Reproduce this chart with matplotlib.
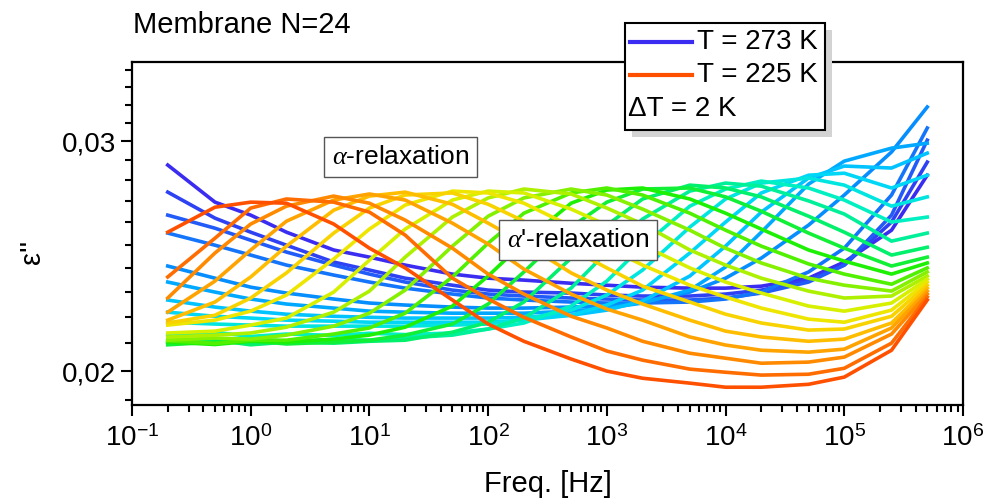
import matplotlib.pyplot as plt
from matplotlib.colors import LinearSegmentedColormap
from matplotlib.ticker import FixedLocator, FixedFormatter, NullFormatter
from matplotlib.patches import Rectangle

plt.rcParams['font.family'] = ['Liberation Sans', 'DejaVu Sans']
plt.rcParams['mathtext.fontset'] = 'custom'
plt.rcParams['mathtext.rm'] = 'Liberation Sans'
plt.rcParams['mathtext.it'] = 'Liberation Serif:italic'

# frequencies [Hz]
freq = [0.2, 0.5, 1, 2, 5, 10, 20, 50, 100, 200, 500, 1e3, 2e3, 5e3,
        1e4, 2e4, 5e4, 1e5, 2.5e5, 5e5]

# eps'' x 1e3, one list per temperature
e273 = [28.76, 26.94, 26.33, 25.55, 24.76, 24.45, 24.11, 23.73, 23.56, 23.48, 23.35, 23.27, 23.19, 23.15, 23.15, 23.23, 23.56, 24.24, 25.64, 28.25]
e271 = [27.42, 26.19, 25.55, 24.97, 24.24, 23.90, 23.56, 23.27, 23.07, 22.99, 22.95, 22.87, 22.83, 22.83, 22.91, 23.07, 23.48, 24.11, 26.01, 28.91]
e269 = [26.33, 25.73, 25.19, 24.67, 24.11, 23.73, 23.40, 23.07, 22.91, 22.83, 22.75, 22.71, 22.67, 22.67, 22.75, 22.95, 23.40, 24.11, 26.33, 30.05]
e267 = [25.51, 24.97, 24.54, 24.11, 23.69, 23.40, 23.15, 22.91, 22.75, 22.67, 22.59, 22.55, 22.55, 22.59, 22.71, 22.99, 23.82, 24.84, 27.28, 30.70]
e265 = [24.07, 23.56, 23.19, 22.95, 22.71, 22.55, 22.47, 22.39, 22.35, 22.35, 22.39, 22.43, 22.59, 22.99, 23.56, 24.41, 25.87, 27.28, 29.43, 31.86]
e263 = [23.40, 22.99, 22.71, 22.51, 22.35, 22.23, 22.19, 22.15, 22.15, 22.15, 22.23, 22.35, 22.55, 23.07, 24.03, 25.55, 27.81, 28.96, 29.63, 29.89]
e261 = [22.67, 22.39, 22.23, 22.11, 22.03, 21.99, 21.96, 21.96, 21.96, 21.99, 22.07, 22.27, 22.63, 23.65, 24.93, 26.47, 28.11, 28.71, 28.61, 29.37]
e259 = [22.19, 22.03, 21.96, 21.88, 21.84, 21.80, 21.80, 21.80, 21.80, 21.88, 22.07, 22.47, 23.07, 24.63, 26.01, 27.38, 28.25, 28.35, 27.62, 28.25]
e257 = [21.80, 21.73, 21.69, 21.65, 21.65, 21.65, 21.65, 21.69, 21.73, 21.92, 22.27, 22.87, 23.90, 25.78, 27.09, 27.86, 28.11, 27.76, 26.75, 27.19]
e255 = [21.31, 21.42, 21.26, 21.35, 21.30, 21.38, 21.33, 21.39, 21.54, 21.77, 22.43, 23.44, 24.93, 26.75, 27.57, 27.96, 27.62, 27.04, 26.01, 26.24]
e253 = [21.12, 21.02, 21.18, 21.08, 21.15, 21.12, 21.20, 21.31, 21.54, 21.96, 23.15, 24.67, 26.15, 27.47, 27.86, 27.71, 27.00, 26.38, 25.15, 25.51]
e251 = [21.01, 21.12, 20.95, 21.05, 21.01, 21.08, 21.12, 21.42, 21.80, 22.59, 24.41, 25.87, 27.09, 27.76, 27.62, 27.19, 26.28, 25.55, 24.54, 24.88]
e249 = [20.95, 21.05, 21.10, 20.98, 21.05, 21.12, 21.31, 21.73, 22.51, 23.82, 25.78, 26.94, 27.57, 27.62, 27.19, 26.51, 25.51, 24.84, 24.07, 24.45]
e247 = [21.05, 20.96, 21.08, 21.05, 21.16, 21.31, 21.61, 22.43, 23.65, 25.10, 26.89, 27.52, 27.62, 27.09, 26.42, 25.69, 24.76, 24.28, 23.73, 24.20]
e245 = [21.10, 21.00, 21.12, 21.12, 21.35, 21.58, 22.15, 23.61, 25.06, 26.42, 27.38, 27.62, 27.28, 26.42, 25.64, 24.93, 24.16, 23.73, 23.31, 23.99]
e243 = [21.12, 21.20, 21.16, 21.31, 21.65, 22.15, 23.07, 24.93, 26.28, 27.14, 27.57, 27.28, 26.61, 25.64, 24.84, 24.20, 23.56, 23.27, 23.03, 23.82]
e241 = [21.24, 21.31, 21.39, 21.61, 22.19, 23.03, 24.45, 26.24, 27.14, 27.57, 27.33, 26.66, 25.92, 24.76, 24.11, 23.56, 23.03, 22.75, 22.83, 23.65]
e239 = [21.39, 21.46, 21.69, 21.96, 22.99, 24.32, 25.69, 27.04, 27.47, 27.38, 26.61, 25.87, 24.97, 23.99, 23.40, 22.95, 22.43, 22.23, 22.55, 23.52]
e237 = [21.69, 21.88, 22.23, 22.87, 24.37, 25.69, 26.80, 27.47, 27.38, 26.89, 25.82, 24.88, 24.11, 23.27, 22.79, 22.35, 21.92, 21.80, 22.27, 23.40]
e235 = [21.77, 22.07, 22.75, 23.78, 25.51, 26.66, 27.28, 27.38, 26.84, 26.05, 24.80, 23.99, 23.23, 22.59, 22.11, 21.77, 21.50, 21.54, 22.03, 23.27]
e233 = [21.88, 22.59, 23.61, 24.93, 26.56, 27.23, 27.42, 26.84, 25.96, 25.06, 23.78, 23.07, 22.51, 21.88, 21.46, 21.24, 21.08, 21.16, 21.77, 23.15]
e231 = [22.19, 23.44, 24.76, 26.05, 27.04, 27.33, 27.04, 25.96, 25.02, 23.94, 22.91, 22.31, 21.88, 21.24, 20.94, 20.75, 20.68, 20.79, 21.58, 23.03]
e229 = [22.75, 24.63, 25.92, 26.75, 27.23, 26.89, 26.10, 24.84, 23.73, 22.91, 22.03, 21.58, 21.08, 20.64, 20.46, 20.28, 20.32, 20.50, 21.35, 22.91]
e227 = [23.61, 25.28, 26.66, 27.09, 26.94, 26.47, 25.42, 23.56, 22.71, 21.99, 21.24, 20.72, 20.39, 20.07, 19.96, 19.86, 19.89, 20.10, 21.01, 22.79]
e225 = [25.55, 26.70, 26.94, 26.89, 25.92, 24.84, 23.99, 22.67, 21.73, 21.08, 20.43, 20.00, 19.75, 19.58, 19.44, 19.44, 19.54, 19.79, 20.75, 22.67]

curves = [e273, e271, e269, e267, e265, e263, e261, e259, e257, e255, e253, e251,
          e249, e247, e245, e243, e241, e239, e237, e235, e233, e231, e229, e227, e225]

x_ticks = [1e-1, 1e0, 1e1, 1e2, 1e3, 1e4, 1e5, 1e6]
x_labels = [r'$10^{-1}$', r'$10^{0}$', r'$10^{1}$', r'$10^{2}$', r'$10^{3}$',
            r'$10^{4}$', r'$10^{5}$', r'$10^{6}$']
y_ticks = [0.02, 0.03]
y_labels = ['0,02', '0,03']

stops = ['#3a2cf0', '#2060f8', '#0098ff', '#00d0ff', '#00f0d0', '#00f070',
         '#20f000', '#90f000', '#e8f000', '#ffc800', '#ff9000', '#ff5000']
cmap = LinearSegmentedColormap.from_list('temps', stops)
n = len(curves)

fig = plt.figure(figsize=(9.87, 5.01), dpi=100)
ax = fig.add_axes([132 / 987, 96 / 501, 831 / 987, 343 / 501])

for k, c in enumerate(curves):
    ax.plot(freq, [v * 1e-3 for v in c], color=cmap(k / (n - 1)), lw=2.6,
            solid_joinstyle='round')

ax.set_xscale('log')
ax.set_yscale('log')
ax.set_xlim(0.1, 1e6)
ax.set_ylim(0.01884, 0.03449)

x_minor = [m * d for d in x_ticks[:-1] for m in range(2, 10)]
ax.xaxis.set_major_locator(FixedLocator(x_ticks))
ax.xaxis.set_major_formatter(FixedFormatter(x_labels))
ax.xaxis.set_minor_locator(FixedLocator(x_minor))
ax.xaxis.set_minor_formatter(NullFormatter())
ax.yaxis.set_major_locator(FixedLocator(y_ticks))
ax.yaxis.set_major_formatter(FixedFormatter(y_labels))
ax.yaxis.set_minor_locator(FixedLocator([0.019, 0.021, 0.022, 0.023, 0.024, 0.025, 0.026,
                                         0.027, 0.028, 0.029, 0.031, 0.032, 0.033, 0.034]))
ax.yaxis.set_minor_formatter(NullFormatter())

ax.tick_params(which='both', direction='out', width=1.5, top=False, right=False,
               labelsize=20)
ax.tick_params(which='major', length=8)
ax.tick_params(which='minor', length=5)
ax.tick_params(axis='x', which='major', pad=7)
for s in ax.spines.values():
    s.set_linewidth(1.6)

ax.set_xlabel('Freq. [Hz]', fontsize=21)
ax.xaxis.set_label_coords(0.5, -0.19)
ax.set_ylabel("ε''", fontsize=21)
ax.yaxis.set_label_coords(-0.103, 0.446)

fig.text(133 / 987, 1 - 25 / 501, 'Membrane N=24', fontsize=21, ha='left', va='center')

box = dict(boxstyle='square,pad=0.3', fc='white', ec='#555555', lw=1)
ax.text(0.3233, 0.723, r'$\alpha$-relaxation', transform=ax.transAxes, fontsize=19,
        ha='center', va='center', bbox=box, zorder=8)
ax.text(0.537, 0.481, r"$\alpha$'-relaxation", transform=ax.transAxes, fontsize=19,
        ha='center', va='center', bbox=box, zorder=8)

# legend box with shadow
x0, w, y0, h = 0.5938, 0.2404, 0.8017, 0.3120
ax.add_patch(Rectangle((x0 + 0.0084, y0 - 0.0204), w, h, transform=ax.transAxes,
                       fc='#d3d3d3', ec='none', clip_on=False, zorder=9))
ax.add_patch(Rectangle((x0, y0), w, h, transform=ax.transAxes, fc='white', ec='black',
                       lw=1.5, clip_on=False, zorder=10))
ax.plot([0.5998, 0.6743], [1.0583, 1.0583], transform=ax.transAxes, color=cmap(0.0),
        lw=3, clip_on=False, zorder=11)
ax.plot([0.5998, 0.6743], [0.9621, 0.9621], transform=ax.transAxes, color=cmap(1.0),
        lw=3, clip_on=False, zorder=11)
ax.text(0.6803, 1.0583, 'T = 273 K', transform=ax.transAxes, fontsize=20, va='center',
        ha='left', zorder=11)
ax.text(0.6803, 0.9621, 'T = 225 K', transform=ax.transAxes, fontsize=20, va='center',
        ha='left', zorder=11)
ax.text(0.5974, 0.8630, 'ΔT = 2 K', transform=ax.transAxes, fontsize=20, va='center',
        ha='left', zorder=11)

fig.savefig('out.png', dpi=100)
